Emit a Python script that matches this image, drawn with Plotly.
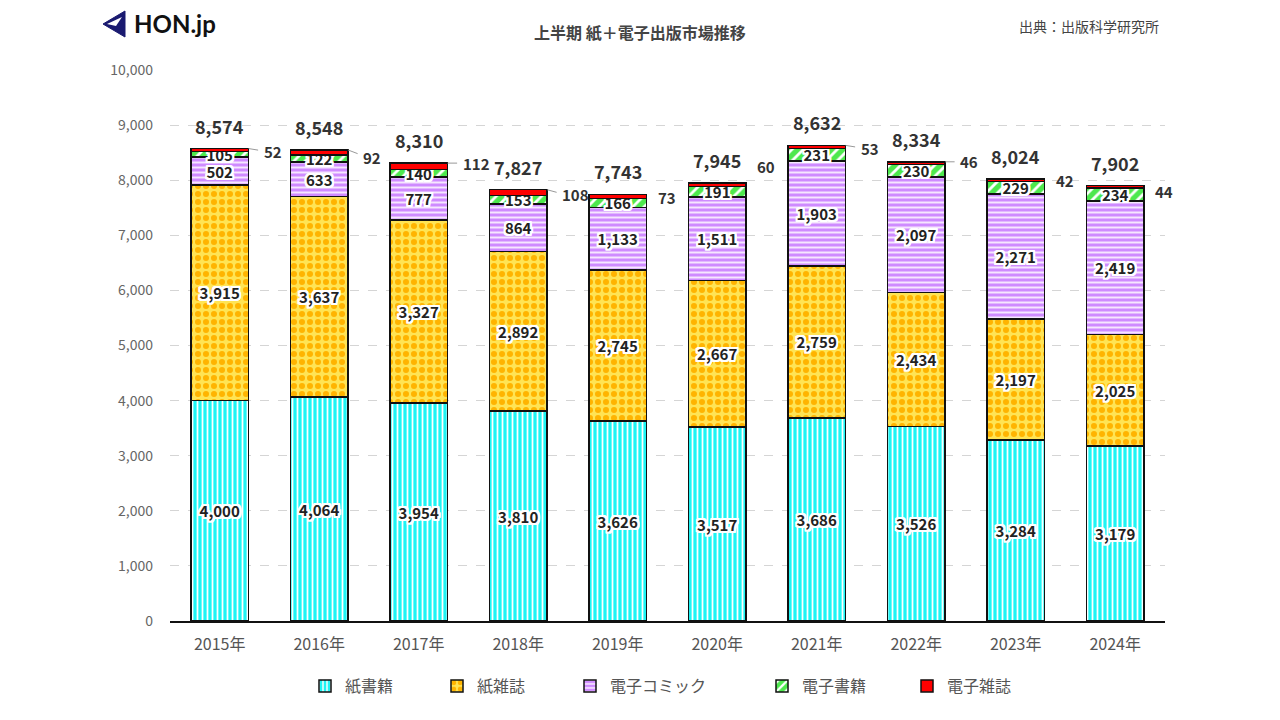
import plotly.graph_objects as go

years = ["2015年", "2016年", "2017年", "2018年", "2019年", "2020年", "2021年", "2022年", "2023年", "2024年"]
paper_books = [4000, 4064, 3954, 3810, 3626, 3517, 3686, 3526, 3284, 3179]
paper_mags = [3915, 3637, 3327, 2892, 2745, 2667, 2759, 2434, 2197, 2025]
e_comics = [502, 633, 777, 864, 1133, 1511, 1903, 2097, 2271, 2419]
e_books = [105, 122, 140, 153, 166, 191, 231, 230, 229, 234]
e_mags = [52, 92, 112, 108, 73, 60, 53, 46, 42, 44]
totals = [8574, 8548, 8310, 7827, 7743, 7945, 8632, 8334, 8024, 7902]

# label placement styling for the small e-magazine values (pixels)
leader = [True, True, True, True, False, False, True, True, False, False]
mag_dy = [-3, -7, 0, -5, -3, 17, -3, 0, -2, -6]

FONT = "Noto Sans CJK JP"
OUTLINE = ",".join(f"{dx}px {dy}px 0 #fff" for dx in (-2, -1, 0, 1, 2) for dy in (-2, -1, 0, 1, 2) if (dx, dy) != (0, 0))
label_font = dict(family=FONT, size=15, color="#222", weight="bold", shadow=OUTLINE)

series = [
    ("紙書籍", paper_books, dict(shape="|", bgcolor="#1EF4F4", fgcolor="#FFFFFF", size=5, solidity=0.35)),
    ("紙雑誌", paper_mags, dict(shape=".", bgcolor="#FFE454", fgcolor="#FFB400", size=8, solidity=0.45)),
    ("電子コミック", e_comics, dict(shape="-", bgcolor="#CF8BFF", fgcolor="#F6E6FF", size=5, solidity=0.4)),
    ("電子書籍", e_books, dict(shape="/", bgcolor="#4DE84D", fgcolor="#FFFFFF", size=8, solidity=0.35)),
    ("電子雑誌", e_mags, None),
]
legend_sym_px = [325, 457, 590, 782, 927]

PL, PR, PT, PB = 170, 1165, 70, 621  # plot area in window pixels
OFF = 8  # page body margin

fig = go.Figure()
for k, (name, vals, pat) in enumerate(series):
    marker = dict(line=dict(color="#111", width=1.5))
    if pat:
        marker["color"] = pat["bgcolor"]
        marker["pattern"] = dict(shape=pat["shape"], bgcolor=pat["bgcolor"], fgcolor=pat["fgcolor"],
                                 size=pat["size"], solidity=pat["solidity"], fillmode="replace")
        text = [f"{v:,}" for v in vals]
    else:
        marker["color"] = "#FF0000"
        text = None
    lg = "legend" if k == 0 else f"legend{k + 1}"
    fig.add_trace(go.Bar(
        x=years, y=vals, name=name, marker=marker, width=0.58, legend=lg,
        text=text, textposition="inside" if text else "none", insidetextanchor="middle",
        constraintext="none", textangle=0, textfont=label_font,
        hoverinfo="y+name",
    ))
    fig.update_layout({lg: dict(
        orientation="h", x=(legend_sym_px[k] - 20 - PL) / (PR - PL), xanchor="left",
        y=(PB - 686) / (PB - PT), yanchor="middle", bgcolor="rgba(0,0,0,0)",
        font=dict(family=FONT, size=16, color="#555"),
    )})

# totals above bars
for i, t in enumerate(totals):
    fig.add_annotation(x=i, y=t, text=f"{t:,}", showarrow=False, yanchor="bottom", yshift=8,
                       font=dict(family=FONT, size=18, color="#333", weight="bold"))

# electronic magazine labels to the right
for i, (t, v) in enumerate(zip(totals, e_mags)):
    if leader[i]:
        fig.add_annotation(x=i + 0.29, y=t, ax=11, ay=-mag_dy[i] * 0.6, text="", showarrow=True, arrowhead=0,
                           arrowwidth=1, arrowcolor="#999")
        fig.add_annotation(x=i + 0.29, y=t, xshift=13, yshift=mag_dy[i], text=f"{v:,}", showarrow=False,
                           xanchor="left", yanchor="middle",
                           font=dict(family=FONT, size=15, color="#333", weight="bold"))
    else:
        fig.add_annotation(x=i + 0.29, y=t, xshift=9, yshift=mag_dy[i], text=f"{v:,}", showarrow=False,
                           xanchor="left", yanchor="middle",
                           font=dict(family=FONT, size=15, color="#333", weight="bold"))

def px_x(p):
    return (p - PL) / (PR - PL)

def px_y(p):
    return (PB - p) / (PB - PT)

# title, source, logo
fig.add_annotation(xref="paper", yref="paper", x=px_x(640), y=px_y(32), yanchor="middle",
                   text="上半期 紙＋電子出版市場推移", showarrow=False,
                   font=dict(family=FONT, size=16, color="#444", weight="bold"))
fig.add_annotation(xref="paper", yref="paper", x=px_x(1161), y=px_y(26), xanchor="right", yanchor="middle",
                   text="出典：出版科学研究所", showarrow=False, font=dict(family=FONT, size=14, color="#444"))
fig.add_annotation(xref="paper", yref="paper", x=px_x(132), y=px_y(23), xanchor="left", yanchor="middle",
                   text="HON.jp", showarrow=False, font=dict(family="Lato", size=24, color="#111", weight="bold"))
fig.add_shape(type="path", xref="paper", yref="paper",
              path=f"M {px_x(103)} {px_y(24)} L {px_x(125)} {px_y(11)} L {px_x(125)} {px_y(37)} Z",
              fillcolor="#1a1a70", line=dict(color="#1a1a70", width=1))
fig.add_shape(type="path", xref="paper", yref="paper",
              path=f"M {px_x(107)} {px_y(24)} L {px_x(122)} {px_y(17)} L {px_x(116)} {px_y(26)} Z",
              fillcolor="#ffffff", line=dict(color="#ffffff", width=0))

fig.update_layout(
    barmode="stack",
    width=1280, height=720,
    margin=dict(l=PL - OFF, r=1280 - PR + OFF, t=PT - OFF, b=720 - PB + OFF),
    paper_bgcolor="white", plot_bgcolor="white",
    font=dict(family=FONT, color="#555"),
    showlegend=True,
)
fig.update_xaxes(type="category", tickfont=dict(family=FONT, size=16, color="#555"),
                 showline=True, linecolor="#111", linewidth=2, ticks="", range=[-0.5, 9.5],
                 ticklabelstandoff=8)
fig.update_yaxes(range=[0, 10000], tickvals=list(range(0, 10001, 1000)), tickformat=",",
                 tickfont=dict(family=FONT, size=14, color="#666"), showgrid=True,
                 gridcolor="#D5D5D5", griddash="dash", gridwidth=1, zeroline=False, ticklabelstandoff=16)

fig.write_html("out.html")
